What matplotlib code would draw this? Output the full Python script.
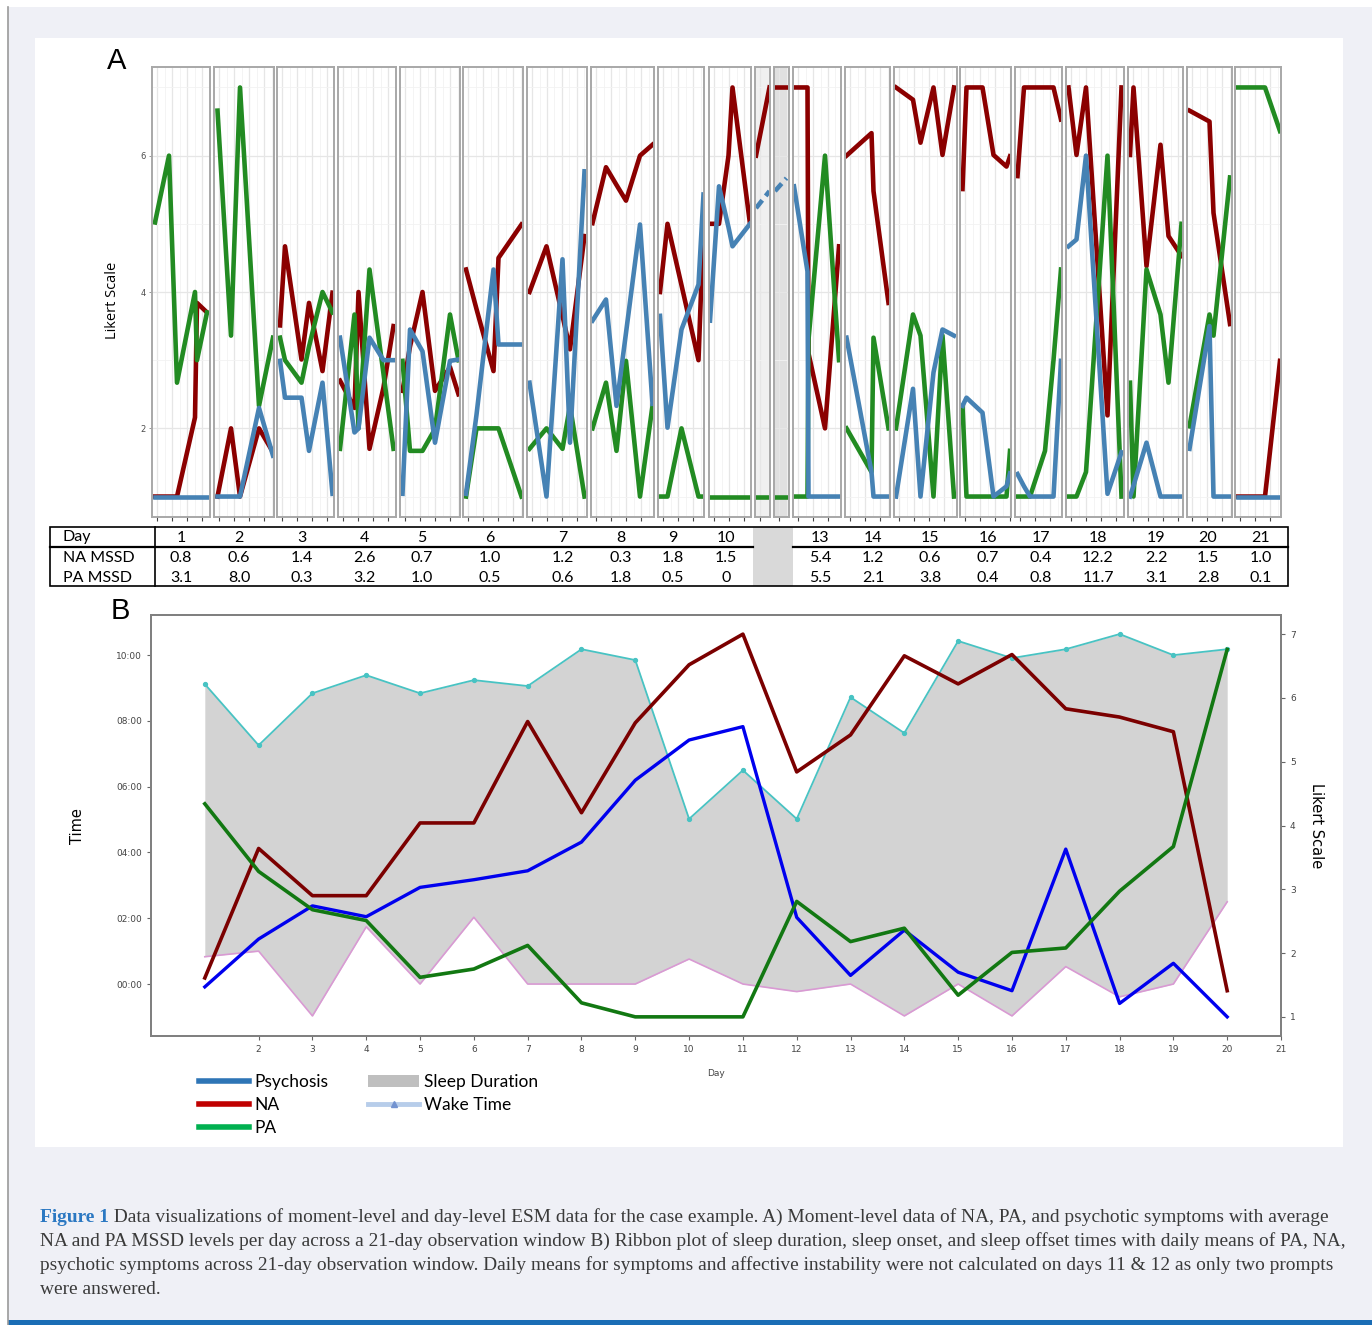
import matplotlib
matplotlib.use("Agg")
import matplotlib.pyplot as plt
from matplotlib.patches import Rectangle, Patch
from matplotlib.lines import Line2D
from matplotlib.ticker import MultipleLocator, FuncFormatter

# ---------------- panel A : moment-level data (hour of prompt, Likert 1-7) ----------------
day_times = [
    [8.6, 11.4, 13.0, 16.6, 17.0, 19.0],
    [8.7, 11.4, 13.2, 17.0, 19.8],
    [8.6, 9.6, 12.9, 14.4, 17.1, 19.1],
    [8.4, 11.3, 12.1, 14.3, 17.1, 19.1],
    [8.5, 10.0, 12.5, 15.0, 18.0, 19.7],
    [8.6, 10.7, 14.1, 15.1, 19.7],
    [8.5, 11.9, 15.1, 16.6, 19.5],
    [8.3, 11.0, 13.1, 15.0, 17.8, 20.3],
    [8.4, 9.9, 12.7, 16.1, 17.1],
    [8.2, 10.0, 11.9, 12.7, 16.2],
    [8.2, 10.9],
    [8.2, 10.5],
    [8.2, 10.9, 11.1, 14.4, 17.2],
    [8.3, 13.3, 13.7, 16.7],
    [8.4, 11.8, 13.3, 15.9, 17.7, 20.0],
    [8.5, 9.3, 12.5, 14.7, 17.3, 18.0],
    [8.5, 9.8, 11.0, 14.0, 15.7, 17.2],
    [8.5, 10.1, 12.0, 16.3, 19.1],
    [8.4, 9.1, 11.7, 14.5, 16.1, 18.7],
    [8.5, 12.5, 13.3, 16.6],
    [8.5, 14.0, 17.0],
]
day_psy = [
    [1, 1, 1, 1, 1, 1],
    [1, 1, 1, 2.3, 1.6],
    [2.99, 2.45, 2.45, 1.67, 2.67, 1.04],
    [3.33, 1.94, 2.0, 3.33, 3.0, 3.0],
    [1.04, 3.45, 3.13, 1.79, 2.99, 3.01],
    [1.04, 2.2, 4.33, 3.23, 3.23],
    [2.67, 1.0, 4.48, 1.79, 5.77],
    [3.58, 3.89, 2.33, 3.4, 4.99, 2.36],
    [3.65, 2.01, 3.45, 4.11, 5.43],
    [3.58, 5.55, 4.95, 4.67, 5.0],
    [5.23, 5.48],
    [5.48, 5.67],
    [5.55, 4.3, 1.0, 1.0, 1.0],
    [3.33, 1.36, 1.0, 1.0],
    [1.0, 2.58, 1.0, 2.82, 3.45, 3.36],
    [2.33, 2.45, 2.23, 1.0, 1.15, 1.34],
    [1.33, 1.15, 1.0, 1.0, 1.0, 2.99],
    [4.67, 4.77, 6.0, 1.04, 1.65],
    [1.0, 1.16, 1.79, 1.0, 1.0, 1.0],
    [1.7, 3.5, 1.0, 1.0],
    [1, 1, 1],
]
day_na = [
    [1, 1, 1, 2.16, 3.84, 3.7],
    [1, 2, 1, 2, 1.65],
    [3.51, 4.67, 3.01, 3.84, 2.84, 3.99],
    [2.7, 2.3, 4.0, 1.7, 2.6, 3.5],
    [2.55, 3.2, 4.0, 2.55, 2.9, 2.5],
    [4.33, 3.75, 2.84, 4.5, 4.99],
    [4.0, 4.67, 3.65, 3.16, 4.82],
    [5.01, 5.83, 5.57, 5.34, 6.0, 6.16],
    [4.0, 5.0, 4.1, 3.0, 5.0],
    [5.0, 5.0, 6.0, 7.0, 5.0],
    [6.0, 7.0],
    [7.0, 7.0],
    [7.0, 7.0, 3.1, 2.0, 4.67],
    [6.0, 6.33, 5.48, 3.84],
    [7.0, 6.82, 6.19, 7.0, 6.01, 7.0],
    [5.51, 7.0, 7.0, 6.01, 5.84, 5.99],
    [5.7, 7.0, 7.0, 7.0, 7.0, 6.53],
    [7.0, 6.01, 7.0, 2.19, 7.0],
    [6.01, 7.0, 4.38, 6.16, 4.82, 4.53],
    [6.66, 6.5, 5.16, 3.53],
    [1.0, 1.0, 2.99],
]
day_pa = [
    [5.02, 6.0, 2.67, 4.0, 3.0, 3.7],
    [6.66, 3.36, 7.0, 2.33, 3.33],
    [3.33, 3.0, 2.67, 3.2, 4.0, 3.7],
    [1.7, 3.67, 2.0, 4.33, 2.8, 1.7],
    [2.99, 1.67, 1.67, 1.99, 3.67, 3.0],
    [1.0, 2.0, 2.0, 2.0, 1.0],
    [1.7, 2.0, 1.7, 2.33, 1.0],
    [2.0, 2.67, 1.67, 2.99, 1.0, 2.33],
    [1, 1, 2, 1, 1],
    [1, 1, 1, 1, 1],
    [1, 1],
    [1, 1],
    [1.0, 1.0, 3.3, 6.0, 3.0],
    [2.0, 1.36, 3.33, 2.0],
    [2.0, 3.67, 3.36, 1.0, 3.36, 1.0],
    [2.33, 1.0, 1.0, 1.0, 1.0, 1.67],
    [1, 1, 1, 1.67, 3.0, 4.33],
    [1, 1, 1.36, 6.0, 1.0],
    [2.67, 1.0, 4.33, 3.67, 2.67, 5.0],
    [2.03, 3.67, 3.36, 5.68],
    [7.0, 7.0, 6.36],
]
sparse_days = [11, 12]   # only two prompts answered

# ---------------- table : MSSD per day ----------------
table_days = ['1', '2', '3', '4', '5', '6', '7', '8', '9', '10',
              '13', '14', '15', '16', '17', '18', '19', '20', '21']
na_mssd = ['0.8', '0.6', '1.4', '2.6', '0.7', '1.0', '1.2', '0.3', '1.8', '1.5',
           '5.4', '1.2', '0.6', '0.7', '0.4', '12.2', '2.2', '1.5', '1.0']
pa_mssd = ['3.1', '8.0', '0.3', '3.2', '1.0', '0.5', '0.6', '1.8', '0.5', '0',
           '5.5', '2.1', '3.8', '0.4', '0.8', '11.7', '3.1', '2.8', '0.1']

# ---------------- panel B : day-level means + sleep ----------------
days_b = list(range(1, 21))
wake_time = [9.12, 7.26, 8.84, 9.39, 8.84, 9.24, 9.06, 10.18, 9.85, 5.02,
             6.5, 5.02, 8.72, 7.63, 10.43, 9.91, 10.18, 10.64, 10.0, 10.18]
sleep_onset = [0.83, 1.0, -0.97, 1.74, 0.0, 2.03, 0.0, 0.0, 0.0, 0.76,
               0.0, -0.23, 0.0, -0.97, 0.0, -0.97, 0.53, -0.39, 0.0, 2.5]
na_mean = [1.61, 3.64, 2.90, 2.90, 4.04, 4.04, 5.63, 4.20, 5.61, 6.52,
           7.0, 4.84, 5.42, 6.66, 6.22, 6.68, 5.83, 5.70, 5.47, 1.41]
psy_mean = [1.47, 2.22, 2.74, 2.57, 3.03, 3.15, 3.29, 3.74, 4.71, 5.34,
            5.55, 2.56, 1.65, 2.36, 1.70, 1.41, 3.63, 1.21, 1.84, 1.0]
pa_mean = [4.34, 3.28, 2.68, 2.51, 1.62, 1.75, 2.12, 1.22, 1.0, 1.0,
           1.0, 2.81, 2.18, 2.39, 1.34, 2.01, 2.08, 2.97, 3.67, 6.76]

# ---------------- layout ----------------
W, H = 1372, 1325
fig = plt.figure(figsize=(W / 100, H / 100), dpi=100)
fig.patch.set_facecolor('white')

def px_axes(l, t, r, b, **kw):
    return fig.add_axes([l / W, 1 - b / H, (r - l) / W, (b - t) / H], **kw)

# background / annotation layer in pixel coords
bg = px_axes(0, 0, W, H, zorder=-5)
bg.set_xlim(0, W)
bg.set_ylim(H, 0)
bg.axis('off')
bg.add_patch(Rectangle((8, 7), W - 8, H - 7, facecolor='#eff0f6', edgecolor='none'))
bg.plot([8, 8], [7, H], color='#9a9a9a', lw=1.2)
bg.add_patch(Rectangle((35, 38), 1308, 1109, facecolor='white', edgecolor='none'))
bg.add_patch(Rectangle((8, 1320), W - 8, 6, facecolor='#1a6db5', edgecolor='none'))

# facet pixel spans (left, right)
facet_px = [(152, 210), (214, 274), (277, 334), (338, 396), (400, 460), (463, 523),
            (527, 587), (591, 654), (658, 704), (709, 751), (755, 770), (774, 789),
            (793, 841), (845, 890), (894, 957), (960, 1011), (1015, 1062),
            (1066, 1124), (1128, 1183), (1187, 1232), (1235, 1281)]

C_NA, C_PA, C_PSY = '#8b0000', '#228b22', '#4682b4'

for i, (l, r) in enumerate(facet_px):
    day = i + 1
    ax = px_axes(l, 67, r, 517)
    ax.set_xlim(8, 8 + (r - l) / 5)
    ax.set_ylim(0.7, 7.3)
    face = 'white'
    if day == 11:
        face = '#f0f0f0'
    elif day == 12:
        face = '#e0e0e0'
    ax.set_facecolor(face)
    ax.xaxis.set_major_locator(MultipleLocator(3))
    ax.xaxis.set_minor_locator(MultipleLocator(1.5))
    ax.yaxis.set_major_locator(MultipleLocator(2))
    ax.yaxis.set_minor_locator(MultipleLocator(1))
    ax.grid(which='major', color='#e6e6e6', lw=0.9)
    ax.grid(which='minor', color='#f2f2f2', lw=0.6)
    ax.set_axisbelow(True)
    for s in ax.spines.values():
        s.set_color('#a8a8a8')
        s.set_linewidth(1.4)
    ax.tick_params(axis='x', which='major', length=3, width=0.8, color='#444444',
                   labelbottom=False)
    ax.tick_params(axis='x', which='minor', length=0)
    ax.tick_params(axis='y', which='minor', length=0)
    if i == 0:
        ax.tick_params(axis='y', which='major', length=2.5, width=0.6, color='#888888',
                       labelsize=6, labelcolor='#4d4d4d', pad=2)
        ax.set_yticks([2, 4, 6])
    else:
        ax.tick_params(axis='y', which='major', length=0, labelleft=False)
    t = day_times[i]
    ls = (0, (2.2, 1.2)) if day in sparse_days else '-'
    ax.plot(t, day_na[i], color=C_NA, lw=3.3)
    ax.plot(t, day_pa[i], color=C_PA, lw=3.3)
    ax.plot(t, day_psy[i], color=C_PSY, lw=3.3, ls=ls)

bg.text(117, 61, 'A', fontsize=21, family='Liberation Sans', ha='center', va='center')
bg.text(113, 300, 'Likert Scale', fontsize=10.5, family='Open Sans', rotation=90,
        ha='center', va='center')

# ---------------- table ----------------
tfont = dict(family='Lato', fontsize=11.5, color='black', va='center')
bg.add_patch(Rectangle((753, 527), 40, 59, facecolor='#d9d9d9', edgecolor='none', zorder=1))
bg.add_patch(Rectangle((50, 527), 1238, 59, facecolor='none', edgecolor='black', lw=1.2, zorder=3))
bg.plot([50, 753], [547, 547], color='black', lw=1.6, zorder=3)
bg.plot([793, 1288], [547, 547], color='black', lw=1.6, zorder=3)
bg.plot([155, 155], [527, 586], color='black', lw=1.2, zorder=3)
table_x = [181, 239, 302, 364, 422, 490, 563, 621, 673, 726,
           820, 873, 930, 988, 1041, 1098, 1156, 1208, 1261]
row_y = [537.5, 557.5, 577.5]
for lab, yy in zip(['Day', 'NA MSSD', 'PA MSSD'], row_y):
    bg.text(63, yy, lab, ha='left', **tfont)
for x, d, n, p in zip(table_x, table_days, na_mssd, pa_mssd):
    bg.text(x, row_y[0], d, ha='center', **tfont)
    bg.text(x, row_y[1], n, ha='center', **tfont)
    bg.text(x, row_y[2], p, ha='center', **tfont)

# ---------------- panel B ----------------
axb = px_axes(151, 615, 1281, 1036)
axb.set_xlim(0, 21)
axb.set_ylim(-1.58, 11.22)
axb.fill_between(days_b, sleep_onset, wake_time, color='#d3d3d3', lw=0, zorder=1)
axb.plot(days_b, wake_time, color='#48c3c3', lw=1.3, marker='o', ms=2.8, zorder=2)
axb.plot(days_b, sleep_onset, color='#d99ad3', lw=1.2, zorder=2)
axb.set_xticks(range(2, 22))
axb.set_yticks([0, 2, 4, 6, 8, 10])
axb.yaxis.set_major_formatter(FuncFormatter(lambda v, p: '%02d:00' % int(round(v))))
axr = axb.twinx()
axr.set_ylim(0.7, 7.3)
axr.set_yticks(range(1, 8))
axr.plot(days_b, na_mean, color='#7b0000', lw=2.6)
axr.plot(days_b, psy_mean, color='#0000ee', lw=2.4)
axr.plot(days_b, pa_mean, color='#127812', lw=2.6)
for a in (axb, axr):
    for s in a.spines.values():
        s.set_color('#808080')
        s.set_linewidth(1.4)
    a.tick_params(labelsize=6.5, labelcolor='#444444', length=3, width=0.8, color='#666666')

bg.text(120, 611, 'B', fontsize=21, family='Liberation Sans', ha='center', va='center')
bg.text(78, 826, 'Time', fontsize=10.5, rotation=90, ha='center', va='center')
bg.text(1316, 826, 'Likert Scale', fontsize=10.5, rotation=-90, ha='center', va='center')
bg.text(716, 1073, 'Day', fontsize=6.5, color='#444444', ha='center', va='center')

# ---------------- legend ----------------
handles = [Line2D([], [], color='#2e75b6', lw=4),
           Line2D([], [], color='#c00000', lw=4),
           Line2D([], [], color='#00b050', lw=4),
           Patch(facecolor='#bfbfbf', edgecolor='none'),
           Line2D([], [], color='#b7cdea', lw=3.5, marker='^', ms=5,
                  mfc='#7393d0', mec='#7393d0')]
labels = ['Psychosis', 'NA', 'PA', 'Sleep Duration', 'Wake Time']
leg = bg.legend(handles, labels, ncol=2, loc='upper left', bbox_to_anchor=(199, 1074),
                bbox_transform=bg.transData, frameon=False, borderpad=0, borderaxespad=0,
                handlelength=2.9, handletextpad=0.3, columnspacing=2.3,
                labelspacing=0.4, prop={'family': 'Lato', 'size': 12.5})

# ---------------- caption ----------------
cap_lines = [
    ' Data visualizations of moment-level and day-level ESM data for the case example. '
    'A) Moment-level data of NA, PA, and psychotic symptoms with average',
    'NA and PA MSSD levels per day across a 21-day observation window B) Ribbon plot of '
    'sleep duration, sleep onset, and sleep offset times with daily means of PA, NA,',
    'psychotic symptoms across 21-day observation window. Daily means for symptoms and '
    'affective instability were not calculated on days 11 & 12 as only two prompts',
    'were answered.',
]
renderer = fig.canvas.get_renderer()
probe = bg.text(40, 1241, cap_lines[1], family='Liberation Serif', fontsize=13)
wpx = probe.get_window_extent(renderer).width
cap_size = 13 * 1298 / wpx
probe.remove()
cap_y = [1217, 1241, 1265, 1289]
head = bg.text(40, cap_y[0], 'Figure 1', family='Liberation Serif', fontsize=cap_size,
               weight='bold', color='#2b78c2', va='center')
hw = head.get_window_extent(renderer).width
bg.text(40 + hw, cap_y[0], cap_lines[0], family='Liberation Serif', fontsize=cap_size,
        color='#3a3a3a', va='center')
for line, yy in zip(cap_lines[1:], cap_y[1:]):
    bg.text(40, yy, line, family='Liberation Serif', fontsize=cap_size,
            color='#3a3a3a', va='center')

fig.savefig('out.png', dpi=100, facecolor=fig.get_facecolor())
